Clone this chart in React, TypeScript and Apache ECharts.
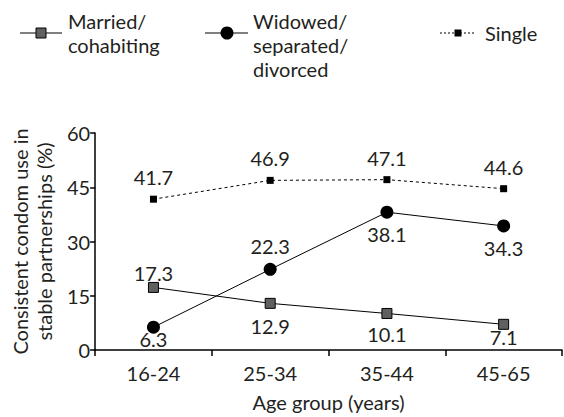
import React, { useEffect, useRef } from "react";
import * as echarts from "echarts";

const categories = ["16-24", "25-34", "35-44", "45-65"];
const married = [17.3, 12.9, 10.1, 7.1];
const widowed = [6.3, 22.3, 38.1, 34.3];
const single = [41.7, 46.9, 47.1, 44.6];
const marriedOffsets = [-14, 23, 21, 13];
const widowedOffsets = [12, -23, 22, 22];
const singleOffsets = [-22, -22, -22, -22];
const yTicks = { min: 0, max: 60, interval: 15 };

const FONT = "Lato";
const TXT = "#231f20";
const FS = 20;

function withLabels(values: number[], offsets: number[]) {
  return values.map((v, i) => ({
    value: v,
    label: { offset: [0, offsets[i]] },
  }));
}

export default function App() {
  const ref = useRef<HTMLDivElement>(null);
  useEffect(() => {
    if (!ref.current) return;
    const chart = echarts.init(ref.current, undefined, { renderer: "svg" });
    const labelBase = {
      show: true,
      position: "inside",
      color: TXT,
      fontFamily: FONT,
      fontSize: FS,
      formatter: (p: any) => Number(p.value).toFixed(1),
    };
    const legendText = (x: number, y: number, text: string) => ({
      type: "text",
      x,
      y,
      style: { text, font: `${FS}px ${FONT}`, fill: TXT, lineHeight: 24, verticalAlign: "top" },
    });
    chart.setOption({
      animation: false,
      textStyle: { fontFamily: FONT, color: TXT },
      grid: { left: 90, right: 2, top: 133, bottom: 66, containLabel: false },
      xAxis: {
        type: "category",
        data: categories,
        boundaryGap: true,
        axisLine: { lineStyle: { color: "#000", width: 1.5 } },
        axisTick: { show: true, length: 6, lineStyle: { color: "#000", width: 1.5 } },
        axisLabel: { color: TXT, fontFamily: FONT, fontSize: FS, margin: 13 },
        name: "Age group (years)",
        nameLocation: "middle",
        nameGap: 42,
        nameTextStyle: { color: TXT, fontFamily: FONT, fontSize: FS },
      },
      yAxis: {
        type: "value",
        min: yTicks.min,
        max: yTicks.max,
        interval: yTicks.interval,
        splitLine: { show: false },
        axisLine: { show: true, lineStyle: { color: "#000", width: 1.5 } },
        axisTick: { show: true, length: 5, lineStyle: { color: "#000", width: 1.5 } },
        axisLabel: { color: TXT, fontFamily: FONT, fontSize: FS, margin: 5 },
        name: "Consistent condom use in\nstable partnerships (%)",
        nameLocation: "middle",
        nameGap: 34,
        nameTextStyle: { color: TXT, fontFamily: FONT, fontSize: FS, lineHeight: 24 },
      },
      series: [
        {
          name: "Married/cohabiting",
          type: "line",
          data: withLabels(married, marriedOffsets),
          symbol: "rect",
          symbolSize: 10,
          itemStyle: { color: "#606060", borderColor: "#000", borderWidth: 1 },
          lineStyle: { color: "#000", width: 1 },
          label: labelBase,
          z: 3,
        },
        {
          name: "Widowed/separated/divorced",
          type: "line",
          data: withLabels(widowed, widowedOffsets),
          symbol: "circle",
          symbolSize: 13,
          itemStyle: { color: "#000", borderColor: "#000", borderWidth: 0 },
          lineStyle: { color: "#000", width: 1 },
          label: labelBase,
          z: 4,
        },
        {
          name: "Single",
          type: "line",
          data: withLabels(single, singleOffsets),
          symbol: "rect",
          symbolSize: 7,
          itemStyle: { color: "#000" },
          lineStyle: { color: "#000", width: 1, type: [3, 3] },
          label: labelBase,
          z: 2,
        },
      ],
      graphic: [
        { type: "line", shape: { x1: 20, y1: 33, x2: 62, y2: 33 }, style: { stroke: "#000", lineWidth: 1 } },
        { type: "rect", shape: { x: 36, y: 28, width: 10, height: 10 }, style: { fill: "#606060", stroke: "#000", lineWidth: 1 } },
        legendText(68, 9, "Married/\ncohabiting"),
        { type: "line", shape: { x1: 205, y1: 33, x2: 248, y2: 33 }, style: { stroke: "#000", lineWidth: 1 } },
        { type: "circle", shape: { cx: 227, cy: 33, r: 6.5 }, style: { fill: "#000" } },
        legendText(253, 9, "Widowed/\nseparated/\ndivorced"),
        { type: "line", shape: { x1: 440, y1: 33, x2: 476, y2: 33 }, style: { stroke: "#000", lineWidth: 1, lineDash: [2, 2] } },
        { type: "rect", shape: { x: 454.5, y: 29.5, width: 7, height: 7 }, style: { fill: "#000" } },
        {
          type: "text", x: 485, y: 33,
          style: { text: "Single", font: `${FS}px ${FONT}`, fill: TXT, verticalAlign: "middle" },
        },
      ],
    });
    return () => chart.dispose();
  }, []);
  return <div ref={ref} style={{ width: 564, height: 417, position: "absolute", left: 0, top: 0, background: "#fff" }} />;
}
